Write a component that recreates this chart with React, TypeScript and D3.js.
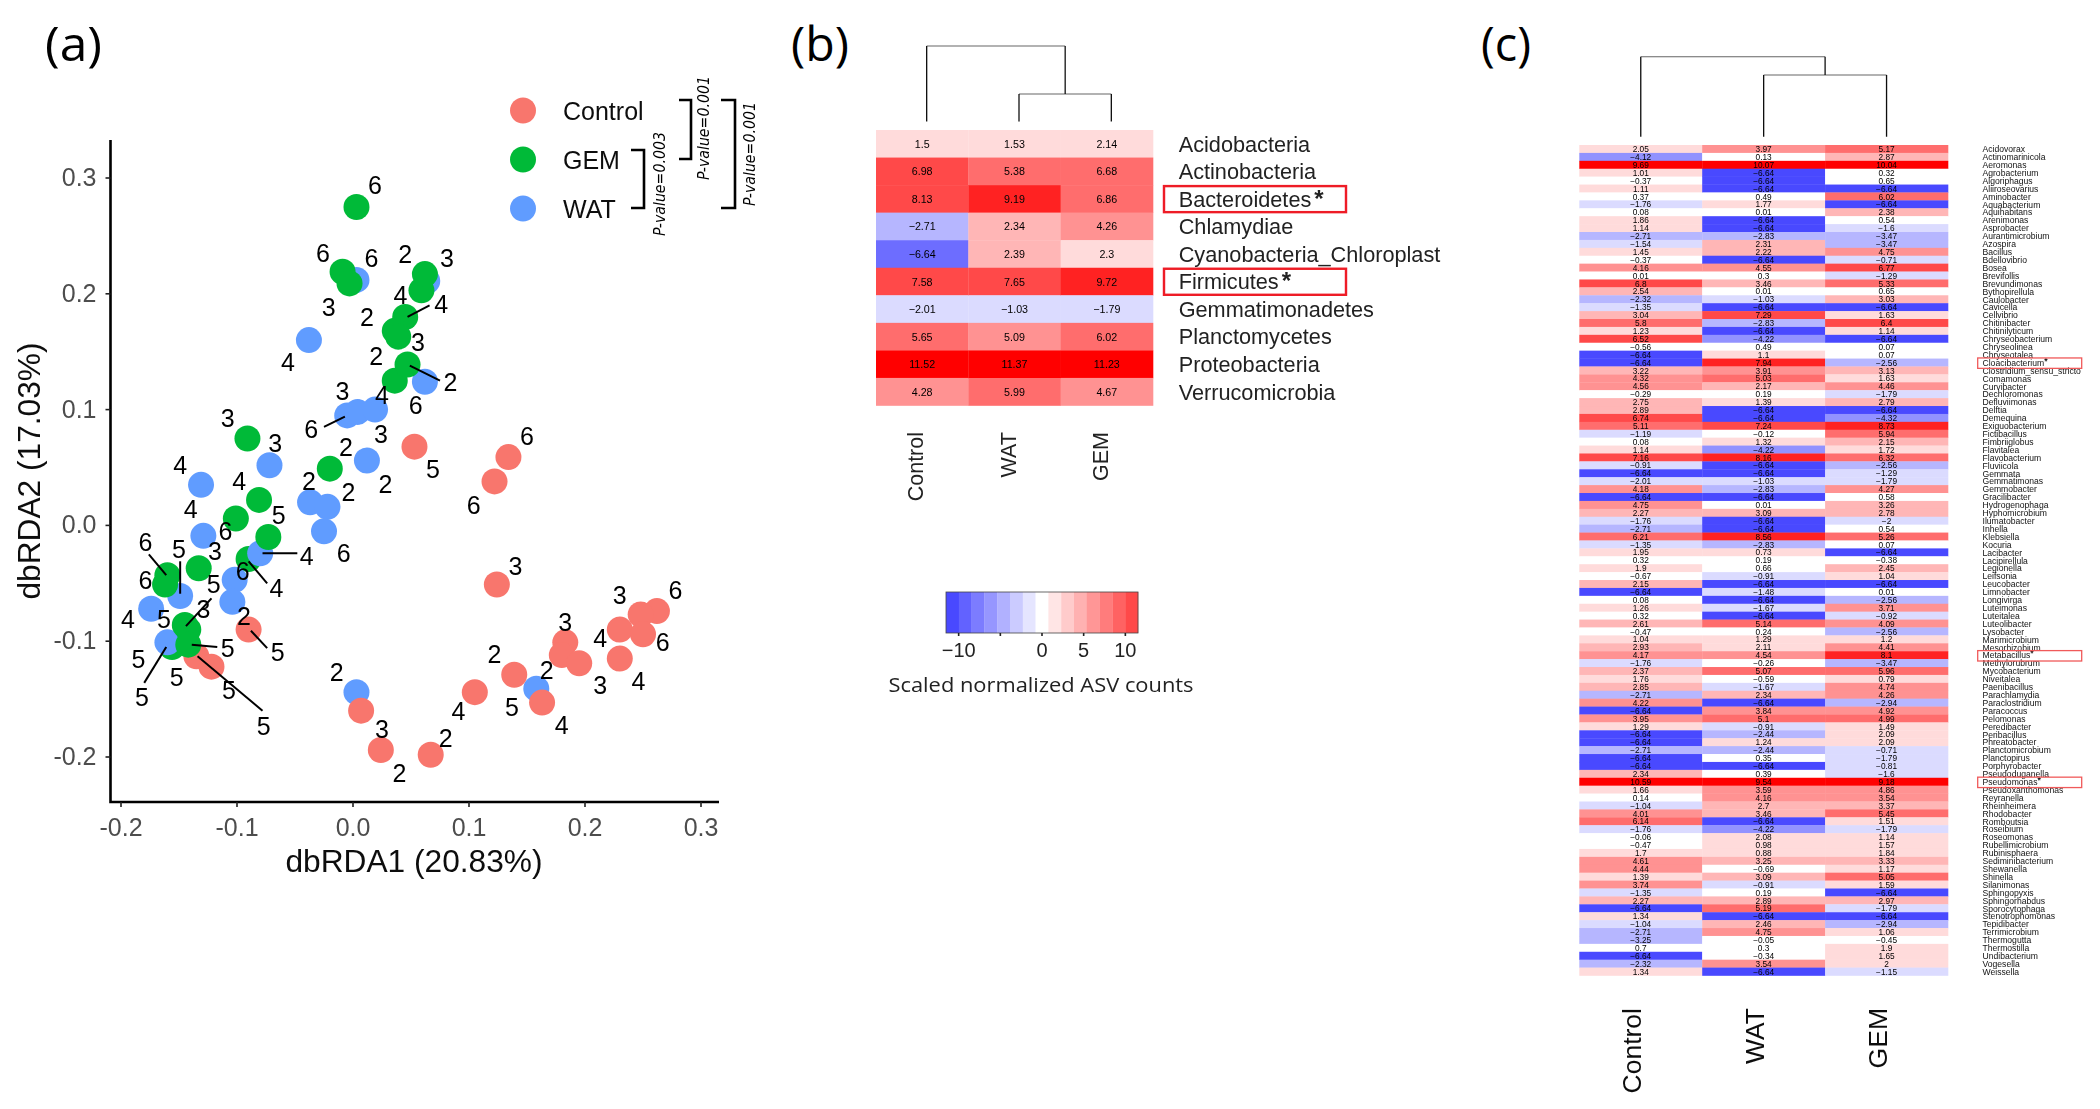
import * as React from "react";
import { useEffect, useRef } from "react";
import {
  axisBottom,
  axisLeft,
  interpolateRgb,
  piecewise,
  quantize,
  range,
  scaleBand,
  scaleLinear,
  scaleQuantize,
  select,
} from "d3";

// (a) ordination samples, [dbRDA1, dbRDA2]
const controlPoints = [
  [0.053, 0.068], [0.134, 0.059], [0.122, 0.038], [0.124, -0.051], [0.262, -0.074], [0.248, -0.077],
  [0.23, -0.09], [0.25, -0.094], [0.23, -0.115], [0.183, -0.101], [0.18, -0.112], [0.195, -0.119],
  [0.139, -0.129], [0.163, -0.153], [0.105, -0.144], [0.067, -0.198], [0.024, -0.194], [0.007, -0.16],
  [-0.09, -0.09], [-0.135, -0.113], [-0.122, -0.122],
];
const watPoints = [
  [0.003, 0.212], [0.064, 0.211], [-0.038, 0.16], [0.062, 0.124], [-0.005, 0.095], [0.004, 0.098],
  [0.019, 0.1], [-0.072, 0.052], [0.012, 0.056], [-0.131, 0.035], [-0.037, 0.02], [-0.022, 0.016],
  [-0.025, -0.005], [-0.129, -0.009], [-0.08, -0.024], [-0.102, -0.047], [-0.104, -0.066], [-0.149, -0.061],
  [-0.174, -0.072], [-0.16, -0.101], [0.003, -0.144], [0.158, -0.141],
];
// GEM samples that sit underneath the WAT points
const gemBackPoints = [[-0.09, -0.029], [-0.156, -0.105]];
const gemPoints = [
  [0.003, 0.275], [-0.009, 0.219], [-0.003, 0.209], [0.059, 0.203], [0.062, 0.217], [0.045, 0.18],
  [0.036, 0.168], [0.039, 0.163], [0.036, 0.125], [0.047, 0.139], [-0.091, 0.075], [-0.02, 0.049],
  [-0.081, 0.022], [-0.101, 0.006], [-0.073, -0.01], [-0.133, -0.037], [-0.16, -0.043], [-0.162, -0.051],
  [-0.145, -0.086], [-0.142, -0.09], [-0.142, -0.103],
];
const pointLabels: [string, number, number][] = [
  ["6", 0.019, 0.294], ["6", -0.026, 0.235], ["6", 0.016, 0.231], ["2", 0.045, 0.234], ["3", 0.081, 0.231],
  ["4", 0.041, 0.199], ["4", 0.076, 0.191], ["3", -0.021, 0.189], ["2", 0.012, 0.18], ["3", 0.056, 0.158],
  ["2", 0.02, 0.146], ["4", -0.056, 0.141], ["2", 0.084, 0.124], ["3", -0.009, 0.116], ["4", 0.025, 0.113],
  ["6", 0.054, 0.104], ["3", -0.108, 0.093], ["6", -0.036, 0.083], ["3", 0.024, 0.079], ["3", -0.067, 0.071],
  ["6", 0.15, 0.077], ["2", -0.006, 0.068], ["4", -0.149, 0.052], ["4", -0.098, 0.038], ["2", -0.038, 0.038],
  ["2", -0.004, 0.029], ["2", 0.028, 0.036], ["5", 0.069, 0.049], ["6", 0.104, 0.018], ["4", -0.14, 0.014],
  ["5", -0.064, 0.009], ["6", -0.11, -0.005], ["6", -0.179, -0.014], ["5", -0.15, -0.02], ["3", -0.119, -0.022],
  ["6", -0.008, -0.024], ["4", -0.04, -0.026], ["3", 0.14, -0.035], ["6", -0.179, -0.047], ["6", -0.095, -0.039],
  ["5", -0.12, -0.051], ["4", -0.066, -0.054], ["3", 0.23, -0.06], ["6", 0.278, -0.056], ["3", -0.129, -0.072],
  ["2", -0.094, -0.078], ["5", -0.163, -0.081], ["4", -0.194, -0.081], ["3", 0.183, -0.083], ["4", 0.213, -0.097],
  ["6", 0.267, -0.101], ["5", -0.108, -0.106], ["5", -0.065, -0.109], ["5", -0.185, -0.115], ["2", 0.122, -0.111],
  ["2", -0.014, -0.127], ["5", -0.152, -0.131], ["3", 0.213, -0.138], ["4", 0.246, -0.134], ["2", 0.167, -0.125],
  ["5", -0.107, -0.142], ["5", -0.182, -0.148], ["5", 0.137, -0.157], ["4", 0.091, -0.16], ["4", 0.18, -0.172],
  ["5", -0.077, -0.173], ["3", 0.025, -0.176], ["2", 0.08, -0.184], ["2", 0.04, -0.214],
];
const labelLeaders = [
  [0.047, 0.18, 0.066, 0.19], [0.049, 0.138, 0.075, 0.125], [-0.025, 0.085, -0.007, 0.094],
  [-0.078, -0.024, -0.048, -0.024], [-0.09, -0.031, -0.074, -0.05], [-0.176, -0.025, -0.161, -0.043],
  [-0.149, -0.031, -0.149, -0.059], [-0.122, -0.063, -0.144, -0.087], [-0.088, -0.091, -0.074, -0.106],
  [-0.139, -0.103, -0.117, -0.105], [-0.161, -0.105, -0.18, -0.136], [-0.134, -0.113, -0.078, -0.16],
];
const ordinationTicks = [-0.2, -0.1, 0, 0.1, 0.2, 0.3];
const legendGroups = ["Control", "GEM", "WAT"];

// (b) phylum heatmap
const heatColumns = ["Control", "WAT", "GEM"];
const phyla = [
  "Acidobacteria", "Actinobacteria", "Bacteroidetes", "Chlamydiae", "Cyanobacteria_Chloroplast",
  "Firmicutes", "Gemmatimonadetes", "Planctomycetes", "Proteobacteria", "Verrucomicrobia",
];
const phylaControl = [1.5, 6.98, 8.13, -2.71, -6.64, 7.58, -2.01, 5.65, 11.52, 4.28];
const phylaWat = [1.53, 5.38, 9.19, 2.34, 2.39, 7.65, -1.03, 5.09, 11.37, 5.99];
const phylaGem = [2.14, 6.68, 6.86, 4.26, 2.3, 9.72, -1.79, 6.02, 11.23, 4.67];
const starredPhyla = ["Bacteroidetes", "Firmicutes"];
const keyTicks = [-10, -5, 0, 5, 10];

// (c) genus heatmap
const genera = [
  "Acidovorax", "Actinomarinicola", "Aeromonas", "Agrobacterium", "Algoriphagus", "Aliiroseovarius", "Aminobacter",
  "Aquabacterium", "Aquihabitans", "Arenimonas", "Asprobacter", "Aurantimicrobium", "Azospira", "Bacillus",
  "Bdellovibrio", "Bosea", "Brevifollis", "Brevundimonas", "Bythopirellula", "Caulobacter", "Cavicella", "Cellvibrio",
  "Chitinibacter", "Chitinilyticum", "Chryseobacterium", "Chryseolinea", "Chryseotalea", "Cloacibacterium",
  "Clostridium_sensu_stricto", "Comamonas", "Curvibacter", "Dechloromonas", "Defluviimonas", "Delftia", "Demequina",
  "Exiguobacterium", "Fictibacillus", "Fimbriiglobus", "Flavitalea", "Flavobacterium", "Fluviicola", "Gemmata",
  "Gemmatimonas", "Gemmobacter", "Gracilibacter", "Hydrogenophaga", "Hyphomicrobium", "Ilumatobacter", "Inhella",
  "Klebsiella", "Kocuria", "Lacibacter", "Lacipirellula", "Legionella", "Leifsonia", "Leucobacter", "Limnobacter",
  "Longivirga", "Luteimonas", "Luteitalea", "Luteolibacter", "Lysobacter", "Marimicrobium", "Mesorhizobium",
  "Metabacillus", "Methylorubrum", "Mycobacterium", "Niveitalea", "Paenibacillus", "Parachlamydia", "Paraclostridium",
  "Paracoccus", "Pelomonas", "Peredibacter", "Peribacillus", "Phreatobacter", "Planctomicrobium", "Planctopirus",
  "Porphyrobacter", "Pseudoduganella", "Pseudomonas", "Pseudoxanthomonas", "Reyranella", "Rheinheimera", "Rhodobacter",
  "Romboutsia", "Roseibium", "Roseomonas", "Rubellimicrobium", "Rubinisphaera", "Sediminibacterium", "Shewanella",
  "Shinella", "Silanimonas", "Sphingopyxis", "Sphingorhabdus", "Sporocytophaga", "Stenotrophomonas", "Tepidibacter",
  "Terrimicrobium", "Thermogutta", "Thermostilla", "Undibacterium", "Vogesella", "Weissella",
];
const generaControl = [
  2.05, -4.12, 9.69, 1.01, -0.37, 1.11, 0.37, -1.76, 0.08, 1.86, 1.14, -2.71, -1.54, 1.45, -0.37, 4.16, 0.01, 6.8, 2.54,
  -2.32, -1.35, 3.04, 5.8, 1.23, 6.52, -0.56, -6.64, -6.64, 3.22, 4.32, 4.56, -0.29, 2.75, 2.89, 6.74, 5.11, -1.19, 0.08,
  1.14, 7.16, -0.91, -6.64, -2.01, 4.18, -6.64, 4.75, 2.27, -1.76, -2.71, 6.21, -1.35, 1.95, 0.32, 1.9, -0.67, 2.15,
  -6.64, 0.08, 1.26, 0.32, 2.61, -0.47, 1.04, 2.93, 4.17, -1.76, 2.37, 1.76, 2.85, -2.71, 4.22, -6.64, 3.95, 1.29, -6.64,
  -6.64, -2.71, -6.64, -6.64, 2.34, 10.59, 1.66, 0.14, -1.04, 4.01, 6.14, -1.76, -0.06, -0.47, 1.7, 4.61, 4.44, 1.39,
  3.74, -1.35, 2.27, -6.64, 1.34, -1.04, -2.71, -3.25, 0.7, -6.64, -2.32, 1.34,
];
const generaWat = [
  3.97, 0.13, 10.07, -6.64, -6.64, -6.64, 0.49, 1.77, 0.01, -6.64, -6.64, -2.83, 2.31, 2.22, -6.64, 4.55, 0.3, 3.46, 0.01,
  -1.03, -6.64, 7.29, -2.83, -6.64, -4.22, 0.49, 1.1, 7.94, 3.91, 5.03, 2.17, 0.19, 1.39, -6.64, -6.64, 7.24, -0.12, 1.32,
  -4.22, 8.16, -6.64, -6.64, -1.03, -2.83, -6.64, 0.01, 3.09, -6.64, -6.64, 8.56, -2.83, 0.73, 0.19, 0.66, -0.91, -6.64,
  -1.48, -6.64, -1.67, -6.64, 5.14, 0.24, 1.29, 2.11, 4.54, -0.26, 5.07, -0.59, -1.67, 2.34, -6.64, 3.84, 5.1, -0.91,
  -2.44, 1.24, -2.44, 0.35, -6.64, 0.39, 9.54, 3.59, 4.16, 2.7, 3.46, -6.64, -4.22, 2.08, 0.98, 0.88, 3.25, -0.69, 3.09,
  -0.91, 0.19, 2.89, 5.19, -6.64, 2.46, 4.75, -0.05, 0.3, -0.34, 3.54, -6.64,
];
const generaGem = [
  5.17, 2.87, 10.04, 0.32, 0.65, -6.64, 6.02, -6.64, 2.38, 0.54, -1.6, -3.47, -3.47, 4.75, -0.71, 6.77, -1.29, 5.33, 0.65,
  3.03, -6.64, 1.63, 6.4, 1.14, -6.64, 0.07, 0.07, -2.56, 3.13, 1.63, 4.46, -1.79, 2.79, -6.64, -4.32, 8.73, 5.94, 2.15,
  1.72, 6.32, -2.56, -1.29, -1.79, 4.27, 0.58, 3.26, 2.78, -2, 0.54, 5.26, 0.07, -6.64, -0.38, 2.45, 1.04, -6.64, 0.01,
  -2.56, 3.71, -0.92, 4.09, -2.56, 1.2, 4.41, 8.1, -3.47, 5.96, 0.79, 4.74, 4.26, -2.94, 4.92, 4.99, 1.49, 2.09, 2.09,
  -0.71, -1.79, -0.81, -1.6, 9.18, 4.86, 3.54, 3.37, 5.45, 1.51, -1.79, 1.14, 1.57, 1.84, 3.33, 1.17, 5.05, 1.59, -6.64,
  2.97, -1.79, -6.64, -2.94, 1.06, -0.45, 1.9, 1.65, 2, -1.15,
];
const starredGenera = ["Cloacibacterium", "Metabacillus", "Pseudomonas"];

const SANS = "'Liberation Sans', Arial, sans-serif";
const groupColor: Record<string, string> = { Control: "#F8766D", GEM: "#00BA38", WAT: "#619CFF" };
const bluered = piecewise(interpolateRgb, ["#0000ff", "#ffffff", "#ff0000"]);
const keyRamp = piecewise(interpolateRgb, ["#4848ff", "#ffffff", "#ff4848"]);
const fmt = (v: number) => `${v}`.replace("-", "\u2212");

const AxisG = (props: { axis: any; transform: string; fontSize: number; fill: string }) => {
  const { axis, transform, fontSize, fill } = props;
  const ref = useRef<SVGGElement>(null);
  useEffect(() => {
    const g = select(ref.current as SVGGElement);
    g.call(axis);
    g.select(".domain").remove();
    g.selectAll("text").attr("font-size", fontSize).attr("font-family", SANS).attr("fill", fill);
    g.selectAll("line").attr("stroke", "#222").attr("stroke-width", 1.6);
  }, []);
  return <g ref={ref} transform={transform} />;
};

// two-step dendrogram: first column against the other two
const Dendrogram = (props: { xs: number[]; leafY: number; topY: number; joinHeight: number }) => {
  const { xs, leafY, topY, joinHeight } = props;
  const h = scaleLinear().domain([0, 1]).range([leafY, topY]);
  const mid = (xs[1] + xs[2]) / 2;
  const top = h(1);
  const join = h(joinHeight);
  return (
    <g fill="none">
      <path d={`M${xs[0]},${top}H${mid}M${xs[1]},${join}H${xs[2]}`} stroke="#666" strokeWidth={1.1} />
      <path
        d={`M${xs[0]},${leafY}V${top}M${mid},${top}V${join}M${xs[1]},${leafY}V${join}M${xs[2]},${leafY}V${join}`}
        stroke="#111"
        strokeWidth={1.3}
      />
    </g>
  );
};

const Heatmap = (props: {
  rows: string[];
  series: number[][];
  limit: number;
  x0: number;
  x1: number;
  y0: number;
  y1: number;
  cellFont: number;
}) => {
  const { rows, series, limit, x0, x1, y0, y1, cellFont } = props;
  const xScale = scaleBand().domain(heatColumns).range([x0, x1]);
  const yScale = scaleBand().domain(rows).range([y0, y1]);
  const color = scaleQuantize<string>().domain([-limit, limit]).range(quantize(bluered, 15));
  return (
    <g>
      {heatColumns.map((col, c) =>
        rows.map((row, r) => (
          <g key={`${col}-${row}`} transform={`translate(${xScale(col)},${yScale(row)})`}>
            <rect width={xScale.bandwidth() + 0.3} height={yScale.bandwidth() + 0.3} fill={color(series[c][r])} />
            <text
              x={xScale.bandwidth() / 2}
              y={yScale.bandwidth() / 2}
              dy="0.38em"
              textAnchor="middle"
              fontSize={cellFont}
              fontFamily={SANS}
              fill="#000"
            >
              {fmt(series[c][r])}
            </text>
          </g>
        ))
      )}
    </g>
  );
};

const PanelA = () => {
  const xScale = scaleLinear().domain([-0.2, 0.3]).range([121, 701]);
  const yScale = scaleLinear().domain([-0.2, 0.3]).range([757, 178]);
  const dots = (pts: number[][], group: string) =>
    pts.map((p, i) => <circle key={`${group}${i}`} cx={xScale(p[0])} cy={yScale(p[1])} r={13} fill={groupColor[group]} />);
  const legendY = scaleBand().domain(legendGroups).range([86, 233]);
  const axisTick = (d: any) => (+d).toFixed(1);
  const bracket = (x0: number, x1: number, y0: number, y1: number) => (
    <path d={`M${x0},${y0}H${x1}V${y1}H${x0}`} fill="none" stroke="#000" strokeWidth={2.6} />
  );
  const pValue = (x: number, y0: number, y1: number, label: string) => (
    <text
      transform={`translate(${x},${y1}) rotate(-90)`}
      dy="0.36em"
      fontSize={15}
      fontStyle="italic"
      fontFamily="'DejaVu Sans', sans-serif"
      textLength={y1 - y0}
      lengthAdjust="spacingAndGlyphs"
    >
      {label}
    </text>
  );
  return (
    <g filter="url(#soft)">
      {dots(gemBackPoints, "GEM")}
      {dots(watPoints, "WAT")}
      {dots(controlPoints, "Control")}
      {dots(gemPoints, "GEM")}
      {labelLeaders.map((s, i) => (
        <line key={i} x1={xScale(s[0])} y1={yScale(s[1])} x2={xScale(s[2])} y2={yScale(s[3])} stroke="#000" strokeWidth={2} />
      ))}
      {pointLabels.map(([t, x, y], i) => (
        <text key={i} x={xScale(x)} y={yScale(y)} dy="0.36em" textAnchor="middle" fontSize={25} fontFamily={SANS} fill="#000">
          {t}
        </text>
      ))}
      <path d="M110.5,140V802H719" fill="none" stroke="#000" strokeWidth={2.6} />
      <AxisG
        axis={axisBottom(xScale).tickValues(ordinationTicks).tickSize(5).tickPadding(11).tickFormat(axisTick).offset(0)}
        transform="translate(0,802)"
        fontSize={25}
        fill="#4d4d4d"
      />
      <AxisG
        axis={axisLeft(yScale).tickValues(ordinationTicks).tickSize(5).tickPadding(9).tickFormat(axisTick).offset(0)}
        transform="translate(110.5,0)"
        fontSize={25}
        fill="#4d4d4d"
      />
      <text x={414} y={872} textAnchor="middle" fontSize={31.7} fontFamily={SANS} fill="#111">
        dbRDA1 (20.83%)
      </text>
      <text transform="translate(40,471) rotate(-90)" textAnchor="middle" fontSize={31.7} fontFamily={SANS} fill="#111">
        dbRDA2 (17.03%)
      </text>
      {legendGroups.map((g) => {
        const cy = (legendY(g) as number) + legendY.bandwidth() / 2;
        return (
          <g key={g}>
            <circle cx={523} cy={cy} r={13} fill={groupColor[g]} />
            <text x={563} y={cy} dy="0.36em" fontSize={25} fontFamily={SANS} fill="#111">
              {g}
            </text>
          </g>
        );
      })}
      {bracket(631, 644, 150, 208)}
      {bracket(679, 691, 100, 159)}
      {bracket(721, 735, 100, 208)}
      {pValue(660, 132, 236, "P-value=0.003")}
      {pValue(704, 76, 180, "P-value=0.001")}
      {pValue(750, 102, 206, "P-value=0.001")}
    </g>
  );
};

const PanelB = () => {
  const x0 = 876;
  const x1 = 1153;
  const y0 = 130;
  const y1 = 405.5;
  const xScale = scaleBand().domain(heatColumns).range([x0, x1]);
  const yScale = scaleBand().domain(phyla).range([y0, y1]);
  const centers = heatColumns.map((c) => (xScale(c) as number) + xScale.bandwidth() / 2);
  const keyX = scaleLinear().domain([-11.52, 11.52]).range([946, 1138]);
  const keyBins = scaleBand<number>().domain(range(15)).range([946, 1138]);
  const keyColors = quantize(keyRamp, 15);
  return (
    <g filter="url(#soft)">
      <Dendrogram xs={centers.map((c) => c + 4.5)} leafY={121.6} topY={46} joinHeight={0.365} />
      <Heatmap rows={phyla} series={[phylaControl, phylaWat, phylaGem]} limit={11.52} x0={x0} x1={x1} y0={y0} y1={y1} cellFont={10.7} />
      {phyla.map((p) => (
        <text
          key={p}
          x={1178.7}
          y={(yScale(p) as number) + yScale.bandwidth() / 2}
          dy="0.36em"
          fontSize={21.7}
          fontFamily={SANS}
          fill="#222"
        >
          {p}
          {starredPhyla.includes(p) ? <tspan fontWeight="bold" fontSize={24} dx={3}>*</tspan> : null}
        </text>
      ))}
      {starredPhyla.map((p) => (
        <rect
          key={p}
          x={1164}
          y={(yScale(p) as number) + 1}
          width={182}
          height={yScale.bandwidth() - 1.5}
          fill="none"
          stroke="#ee1c25"
          strokeWidth={2.4}
        />
      ))}
      {heatColumns.map((c, i) => (
        <text
          key={c}
          transform={`translate(${centers[i] + 1},432) rotate(-90)`}
          textAnchor="end"
          fontSize={21.5}
          fontFamily={SANS}
          fill="#222"
        >
          {c}
        </text>
      ))}
      {keyColors.map((c, i) => (
        <rect key={c + i} x={keyBins(i)} y={592} width={keyBins.bandwidth() + 0.2} height={41} fill={c} />
      ))}
      <rect x={946} y={592} width={192} height={41} fill="none" stroke="#444" strokeWidth={0.8} />
      <AxisG
        axis={axisBottom(keyX)
          .tickValues(keyTicks)
          .tickSize(3)
          .tickPadding(7)
          .tickFormat((d: any) => (+d === -5 ? "" : fmt(+d)))
          .offset(0)}
        transform="translate(0,633)"
        fontSize={20}
        fill="#222"
      />
      <text x={888.5} y={692} fontSize={20} fontFamily="'Open Sans', sans-serif" fill="#222" textLength={305} lengthAdjust="spacingAndGlyphs">
        Scaled normalized ASV counts
      </text>
    </g>
  );
};

const PanelC = () => {
  const x0 = 1579.3;
  const x1 = 1948;
  const y0 = 145;
  const y1 = 975.5;
  const xScale = scaleBand().domain(heatColumns).range([x0, x1]);
  const yScale = scaleBand().domain(genera).range([y0, y1]);
  const centers = heatColumns.map((c) => (xScale(c) as number) + xScale.bandwidth() / 2);
  return (
    <g filter="url(#soft)">
      <Dendrogram xs={centers} leafY={136.7} topY={56.7} joinHeight={0.771} />
      <Heatmap rows={genera} series={[generaControl, generaWat, generaGem]} limit={10.59} x0={x0} x1={x1} y0={y0} y1={y1} cellFont={8.3} />
      {genera.map((g) => (
        <text
          key={g}
          x={1982.5}
          y={(yScale(g) as number) + yScale.bandwidth() / 2}
          dy="0.38em"
          fontSize={8.6}
          fontFamily={SANS}
          fill="#111"
        >
          {g}
          {starredGenera.includes(g) ? <tspan fontWeight="bold" dy={-2}>*</tspan> : null}
        </text>
      ))}
      {starredGenera.map((g) => (
        <rect
          key={g}
          x={1977.7}
          y={(yScale(g) as number) - 0.6}
          width={104}
          height={10.4}
          fill="none"
          stroke="#f05a5a"
          strokeWidth={1.3}
        />
      ))}
      {heatColumns.map((c, i) => (
        <text
          key={c}
          transform={`translate(${centers[i] + 0.5},1008) rotate(-90)`}
          textAnchor="end"
          fontSize={26.5}
          fontFamily={SANS}
          fill="#111"
        >
          {c}
        </text>
      ))}
    </g>
  );
};

const panelTitles: [string, number, number, number][] = [
  ["(a)", 45, 61, 57],
  ["(b)", 791, 61, 58],
  ["(c)", 1481, 61, 50],
];

export default function App() {
  return (
    <svg width={2100} height={1109} style={{ position: "absolute", left: 0, top: 0, background: "#fff" }}>
      <defs>
        <filter id="soft" x="-5%" y="-5%" width="110%" height="110%">
          <feGaussianBlur stdDeviation={0.4} />
        </filter>
      </defs>
      {panelTitles.map(([t, x, y, w]) => (
        <text
          key={t}
          x={x}
          y={y}
          fontSize={47}
          fontWeight={500}
          fontFamily="'Open Sans', sans-serif"
          fill="#000"
          textLength={w}
          lengthAdjust="spacingAndGlyphs"
        >
          {t}
        </text>
      ))}
      <PanelA />
      <PanelB />
      <PanelC />
    </svg>
  );
}
